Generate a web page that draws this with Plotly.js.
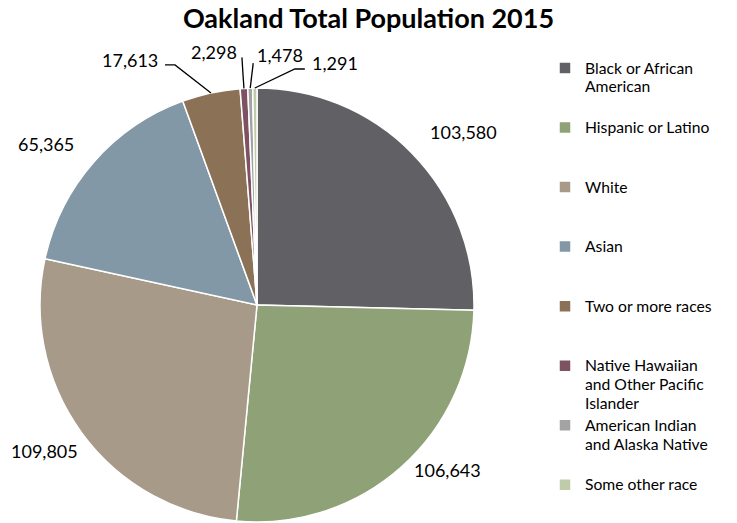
<!DOCTYPE html>
<html>
<head>
<meta charset="utf-8">
<script src="https://cdn.plot.ly/plotly-3.0.1.min.js"></script>
<style>html,body{margin:0;padding:0;background:#fff}#chart{width:737px;height:523px}</style>
</head>
<body>
<div id="chart"></div>
<script>
// ---- data ----
const categories = [
  "Black or African American",
  "Hispanic or Latino",
  "White",
  "Asian",
  "Two or more races",
  "Native Hawaiian and Other Pacific Islander",
  "American Indian and Alaska Native",
  "Some other race"
];
const legendNames = [
  "Black or African<br>American",
  "Hispanic or Latino",
  "White",
  "Asian",
  "Two or more races",
  "Native Hawaiian<br>and Other Pacific<br>Islander",
  "American Indian<br>and Alaska Native",
  "Some other race"
];
const population = [103580, 106643, 109805, 65365, 17613, 2298, 1478, 1291];
const colors = ["#616065", "#8fa277", "#a89a89", "#8298a6", "#8b7155", "#7e5262", "#a3a3a3", "#bfccaa"];

// ---- layout / style ----
const W = 737, H = 523;
const cx = 257, cy = 305, R = 217;
const font = "Lato, 'Open Sans', sans-serif";
// label text-center offsets (px) from slice edge midpoint, and leader elbow points
const textOffsets = [[51,-21],[46,3],[-37,18],[-48,-18],[-81,-33],[-30,-36],[30,-33],[80,-25]];
const leaders = [null,null,null,null,[[-36,-28],[-46,-28]],[[-2,-31]],[[3,-25]],[[40,-19],[50,-19]]];

const px = x => x / W;
const py = y => 1 - y / H;

// legend entries: larger visible text, padded to 3 lines (except last) for even spacing
const padded = legendNames.map((n, i) => {
  const parts = n.split("<br>");
  let lines = parts.map(p => `<span style="font-size:15.7px">${p}</span>`);
  if (i < legendNames.length - 1) while (lines.length < 3) lines.push(" ");
  return lines.join("<br>");
});

const total = population.reduce((a, b) => a + b, 0);
let cum = 0;
const annotations = [];
const shapes = [];
population.forEach((v, i) => {
  const mid = (cum + v / 2) / total * 2 * Math.PI;
  cum += v;
  const ax = cx + R * Math.sin(mid);
  const ay = cy - R * Math.cos(mid);
  const [dx, dy] = textOffsets[i];
  annotations.push({
    xref: "paper", yref: "paper",
    x: px(ax + dx), y: py(ay + dy),
    text: v.toLocaleString("en-US"),
    showarrow: false,
    xanchor: "center", yanchor: "middle",
    font: {family: font, size: 18, color: "#000"}
  });
  if (leaders[i]) {
    let path = `M${px(ax)},${py(ay)}`;
    leaders[i].forEach(([lx, ly]) => { path += ` L${px(ax + lx)},${py(ay + ly)}`; });
    shapes.push({type: "path", xref: "paper", yref: "paper", path: path,
      line: {color: "#000", width: 1.3}});
  }
});

const trace = {
  type: "pie",
  labels: padded,
  values: population,
  text: categories,
  sort: false,
  direction: "clockwise",
  rotation: 0,
  textinfo: "none",
  hoverinfo: "text+value",
  marker: {colors: colors, line: {color: "#ffffff", width: 1.5}},
  domain: {x: [px(cx - R), px(cx + R)], y: [py(cy + R), py(cy - R)]}
};

const layout = {
  width: W, height: H,
  margin: {l: 0, r: 0, t: 0, b: 0},
  paper_bgcolor: "#fff",
  title: {text: "<b>Oakland Total Population 2015</b>", x: 0.5, xanchor: "center",
    y: py(19), yanchor: "middle", font: {family: font, size: 27, color: "#000"}},
  showlegend: true,
  legend: {x: px(545), xanchor: "left", y: py(52), yanchor: "top",
    valign: "top", font: {family: font, size: 14.5, color: "#000"}, bgcolor: "rgba(0,0,0,0)"},
  annotations: annotations,
  shapes: shapes
};

Plotly.newPlot("chart", [trace], layout, {displayModeBar: false, staticPlot: true});
</script>
</body>
</html>
